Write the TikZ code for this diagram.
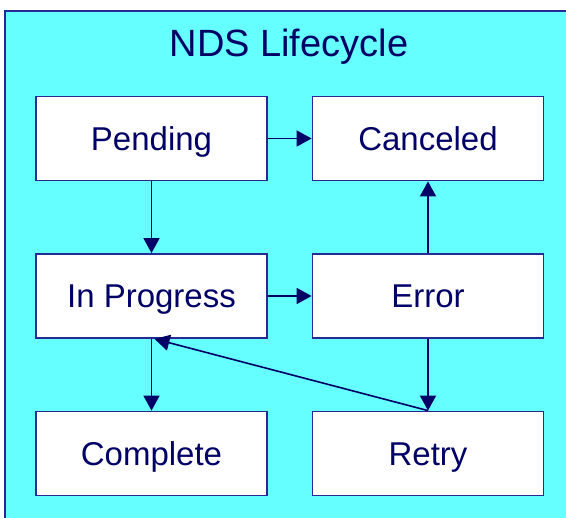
\documentclass[tikz,border=0pt]{standalone}
\usepackage{fontspec}
\setmainfont{Liberation Sans}
\usetikzlibrary{arrows.meta}
\definecolor{panel}{RGB}{102,255,255}
\definecolor{frameline}{RGB}{40,40,150}
\definecolor{ink}{RGB}{0,0,102}
\begin{document}
\begin{tikzpicture}[x=1pt,y=-1pt,
  state/.style={draw=frameline, line width=1.8pt, fill=white,
    minimum width=231pt, minimum height=84pt, inner sep=0pt,
    text=ink, font=\fontsize{33}{36}\selectfont,
    text height=23.6pt, text depth=0pt},
  flow/.style={draw=ink, line width=1.6pt,
    -{Triangle[length=15pt,width=16pt]}}]
  \useasboundingbox (0,0) rectangle (566,518);
  % panel, running past the right and bottom edges
  \fill[panel] (5,11) rectangle (566,518);
  \draw[frameline, line width=2pt] (5,518) -- (5,11) -- (566,11);
  \node[text=ink, font=\fontsize{38}{42}\selectfont, anchor=base] (title) at (289,57) {NDS Lifecycle};
  % states
  \node[state] (pend)  at (151.5,138.5) {Pending};
  \node[state] (canc)  at (428,138.5)   {Canceled};
  \node[state] (prog)  at (151.5,296)   {In Progress};
  \node[state] (err)   at (428,296)     {Error};
  \node[state] (comp)  at (151.5,453.5) {Complete};
  \node[state] (retry) at (428,453.5)   {Retry};
  % transitions
  \draw[flow] (pend.east) -- (canc.west);
  \draw[flow] (pend.south) -- (prog.north);
  \draw[flow] (prog.east) -- (err.west);
  \draw[flow] (err.north) -- (canc.south);
  \draw[flow] (err.south) -- (retry.north);
  \draw[flow] (prog.south) -- (comp.north);
  \draw[flow] (retry.north) -- ([xshift=3pt]prog.south);
\end{tikzpicture}
\end{document}
